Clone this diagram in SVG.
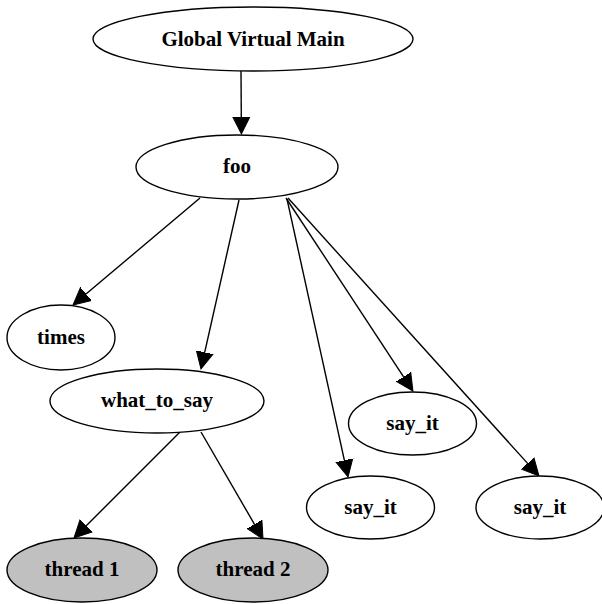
<svg xmlns="http://www.w3.org/2000/svg" width="602" height="604" viewBox="0 0 602 604">
<defs>
<style>
.n ellipse{fill:#fff;stroke:#000;stroke-width:1.4}
.g ellipse{fill:#c0c0c0}
.n text{font-family:"Liberation Serif","Times New Roman",serif;font-weight:bold;font-size:21px;text-anchor:middle;fill:#000}
.e line{stroke:#000;stroke-width:1.4;marker-end:url(#ah)}
</style>
<marker id="ah" markerUnits="userSpaceOnUse" markerWidth="19" markerHeight="20" viewBox="0 -10 19 20" refX="0" refY="0" orient="auto">
<path d="M0,-8.5 L17,0 L0,8.5 Z" fill="#000" stroke="#000" stroke-width="1"/>
</marker>
</defs>
<rect width="602" height="604" fill="#fff"/>
<g id="edges" class="e">
<line x1="241" y1="71" x2="241.3" y2="117"/>
<line x1="200" y1="198" x2="86" y2="294"/>
<line x1="239" y1="200" x2="204.7" y2="352.4"/>
<line x1="286" y1="198" x2="403.6" y2="376.8"/>
<line x1="287" y1="199" x2="344.4" y2="460.4"/>
<line x1="288" y1="198" x2="527.6" y2="463.4"/>
<line x1="180" y1="432" x2="86" y2="526"/>
<line x1="201" y1="432" x2="254.5" y2="524.3"/>
</g>
<g id="gvm" class="n"><ellipse cx="253" cy="39" rx="160" ry="32"/><text x="253" y="46">Global Virtual Main</text></g>
<g id="foo" class="n"><ellipse cx="237" cy="167" rx="101" ry="32"/><text x="237" y="173">foo</text></g>
<g id="times" class="n"><ellipse cx="61" cy="337.5" rx="54" ry="32.5"/><text x="61" y="344">times</text></g>
<g id="what_to_say" class="n"><ellipse cx="157" cy="401" rx="107" ry="32"/><text x="157" y="407">what_to_say</text></g>
<g id="say_it_mid" class="n"><ellipse cx="412.5" cy="423.5" rx="64" ry="31.5"/><text x="412.5" y="430">say_it</text></g>
<g id="say_it_left" class="n"><ellipse cx="370.5" cy="507.5" rx="64" ry="31.5"/><text x="370.5" y="514">say_it</text></g>
<g id="say_it_right" class="n"><ellipse cx="540" cy="507.5" rx="64" ry="31.5"/><text x="540" y="514">say_it</text></g>
<g id="thread1" class="n g"><ellipse cx="82" cy="570" rx="75" ry="32"/><text x="82" y="576">thread 1</text></g>
<g id="thread2" class="n g"><ellipse cx="253" cy="570" rx="75" ry="32"/><text x="253" y="576">thread 2</text></g>
</svg>
